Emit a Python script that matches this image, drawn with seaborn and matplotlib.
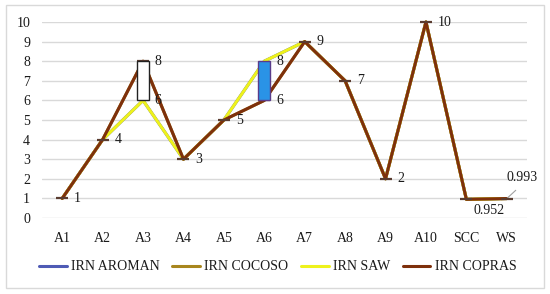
import matplotlib
matplotlib.use("Agg")
import matplotlib.pyplot as plt
import seaborn as sns
import pandas as pd
import numpy as np
from matplotlib.patches import Rectangle

categories = ["A1", "A2", "A3", "A4", "A5", "A6", "A7", "A8", "A9", "A10", "SCC", "WS"]
irn_aroman = [1, 4, 6, 3, 5, 8, 9, 7, 2, 10, 0.952, 0.993]
irn_cocoso = [1, 4, 8, 3, 5, 6, 9, 7, 2, 10, 0.952, 0.993]
irn_saw    = [1, 4, 6, 3, 5, 8, 9, 7, 2, 10, 0.952, 0.993]
irn_copras = [1, 4, 8, 3, 5, 6, 9, 7, 2, 10, 0.952, 0.993]
series_names = ["IRN AROMAN", "IRN COCOSO", "IRN SAW", "IRN COPRAS"]
yticks = list(range(0, 11))

colors = {"IRN AROMAN": "#4F5BB5", "IRN COCOSO": "#A8861E",
          "IRN SAW": "#EEF21C", "IRN COPRAS": "#7E300C"}

rows = []
for name, vals in zip(series_names, [irn_aroman, irn_cocoso, irn_saw, irn_copras]):
    for i, (c, v) in enumerate(zip(categories, vals)):
        rows.append({"pos": i, "cat": c, "value": v, "series": name})
df = pd.DataFrame(rows)

sns.set_theme(style="white")
plt.rcParams['font.family'] = ['Liberation Serif', 'DejaVu Serif']

fig = plt.figure(figsize=(5.5, 2.94), dpi=100)
ax = fig.add_axes([42/550, 1-218/294, (527-42)/550, (218-22)/294])

sns.lineplot(data=df, x="pos", y="value", hue="series", hue_order=series_names,
             palette=colors, sort=False, linewidth=2.2, ax=ax, legend=True,
             zorder=3, clip_on=False)

# dash markers on points
ax.plot(range(len(categories)), irn_copras, linestyle="none", marker="_",
        markersize=9, markeredgewidth=1.6, color="#5a3c30", zorder=4, clip_on=False)

# up-down bars between first and last series
for i, (a, b) in enumerate(zip(irn_aroman, irn_copras)):
    if abs(a - b) > 0.5:
        lo = min(a, b)
        h = abs(a - b)
        fc = "white" if b > a else "#2A93E6"
        ec = "#222222" if b > a else "#5a3c8a"
        ax.bar(i, h, bottom=lo, width=0.3, color=fc, edgecolor=ec, linewidth=1.0, zorder=5)

# data labels
for i, v in enumerate(irn_copras[:10]):
    ax.annotate(f"{v:g}", (i, v), xytext=(8.5, 0), textcoords="offset points",
                va="center", ha="left", fontsize=10, color="#1a1a1a", zorder=6)
for i in [2, 5]:
    v = irn_saw[i]
    ax.annotate(f"{v:g}", (i, v), xytext=(8.5, 0), textcoords="offset points",
                va="center", ha="left", fontsize=10, color="#1a1a1a", zorder=6)
ax.annotate(f"{irn_copras[10]:.3f}", (10, irn_copras[10]), xytext=(5, -8),
            textcoords="offset points", va="center", ha="left", fontsize=10, color="#1a1a1a")
ax.annotate(f"{irn_copras[11]:.3f}", (11, irn_copras[11]), xytext=(0, 15),
            textcoords="offset points", va="center", ha="left", fontsize=10, color="#1a1a1a",
            arrowprops=dict(arrowstyle="-", color="#a0a0a0", lw=0.8, shrinkA=3, shrinkB=0,
                            relpos=(0.5, 0)))

ax.set_xlim(-0.5, len(categories) - 0.5)
ax.set_ylim(0, 10)
ax.set_xticks(range(len(categories)))
ax.set_xticklabels(categories)
ax.set_yticks(yticks)
ax.set_xlabel("")
ax.set_ylabel("")
ax.grid(axis="y", color="#d9d9d9", linewidth=1.0)
ax.set_axisbelow(True)
for s in ax.spines.values():
    s.set_visible(False)
ax.tick_params(axis="both", length=0, labelsize=10, colors="#1a1a1a")
ax.tick_params(axis="y", pad=8.5)
ax.tick_params(axis="x", pad=10)

handles, labels = ax.get_legend_handles_labels()
ax.get_legend().remove()
fig.legend(handles, labels, loc="center", bbox_to_anchor=(0.505, 1-267/294), ncol=4,
           frameon=False, fontsize=10, handlelength=2.0, handletextpad=0.3,
           columnspacing=0.9, labelcolor="#1a1a1a")

fig.patches.append(Rectangle((6/550, 1-288/294), 538/550, 283/294, transform=fig.transFigure,
                             fill=False, edgecolor="#d9d9d9", linewidth=1.0))

fig.savefig("out.png", dpi=100)
